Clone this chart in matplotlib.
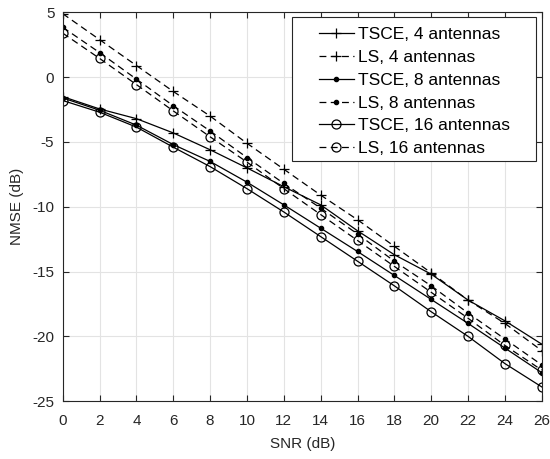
import matplotlib
matplotlib.use("Agg")
import matplotlib.pyplot as plt
from matplotlib.patches import Rectangle

plt.rcParams['font.family'] = ['Liberation Sans', 'DejaVu Sans']
plt.rcParams['axes.unicode_minus'] = False

snr = [0, 2, 4, 6, 8, 10, 12, 14, 16, 18, 20, 22, 24, 26]

tsce_4 = [-1.5, -2.45, -3.2, -4.3, -5.6, -7.0, -8.45, -9.85, -11.85, -13.7, -15.2, -17.2, -18.8, -20.6]
ls_4 = [4.9, 2.9, 0.9, -1.1, -3.0, -5.1, -7.1, -9.1, -11.0, -13.05, -15.1, -17.2, -19.0, -21.1]
tsce_8 = [-1.6, -2.55, -3.7, -5.2, -6.5, -8.1, -9.85, -11.65, -13.45, -15.3, -17.15, -19.0, -20.9, -22.8]
ls_8 = [3.85, 1.9, -0.15, -2.2, -4.15, -6.2, -8.2, -10.1, -12.1, -14.2, -16.1, -18.2, -20.2, -22.2]
tsce_16 = [-1.8, -2.7, -3.85, -5.4, -6.9, -8.6, -10.4, -12.3, -14.2, -16.1, -18.1, -20.0, -22.1, -23.9]
ls_16 = [3.4, 1.45, -0.57, -2.6, -4.6, -6.55, -8.6, -10.6, -12.6, -14.6, -16.6, -18.6, -20.7, -22.6]

labels = ['TSCE, 4 antennas', 'LS, 4 antennas', 'TSCE, 8 antennas',
          'LS, 8 antennas', 'TSCE, 16 antennas', 'LS, 16 antennas']

fs = 11
fs_leg = 12.5
axcol = '#262626'

fig = plt.figure(figsize=(5.5, 4.59), dpi=100)
ax = fig.add_axes([0.114, 0.126, 0.871, 0.847])

lw = 0.9
dash = (5.5, 3.5)
ax.plot(snr, tsce_4, '-', color='k', lw=lw, marker='+', ms=7.5, mew=0.9, label=labels[0])
ax.plot(snr, ls_4, '--', color='k', lw=lw, dashes=dash, marker='+', ms=7.5, mew=0.9, label=labels[1])
ax.plot(snr, tsce_8, '-', color='k', lw=lw, marker='.', ms=6, label=labels[2])
ax.plot(snr, ls_8, '--', color='k', lw=lw, dashes=dash, marker='.', ms=6, label=labels[3])
ax.plot(snr, tsce_16, '-', color='k', lw=lw, marker='o', ms=6.5, mfc='none', mew=0.9, label=labels[4])
ax.plot(snr, ls_16, '--', color='k', lw=lw, dashes=dash, marker='o', ms=6.5, mfc='none', mew=0.9, label=labels[5])

ax.set_xlim(0, 26)
ax.set_ylim(-25, 5)
ax.set_xticks(range(0, 27, 2))
ax.set_yticks(range(-25, 6, 5))
ax.grid(True, color='#e3e3e3', lw=0.8)
ax.set_axisbelow(True)
ax.tick_params(direction='in', top=True, right=True, length=4, width=0.8,
               labelsize=fs, colors=axcol, pad=6)
ax.tick_params(axis='x', pad=9)
for s in ax.spines.values():
    s.set_color(axcol)
    s.set_linewidth(0.8)

ax.set_xlabel('SNR (dB)', fontsize=fs, color=axcol, labelpad=7)
ax.set_ylabel('NMSE (dB)', fontsize=fs, color=axcol, labelpad=6)

# legend box drawn separately so it can be wider than its content
ax.add_patch(Rectangle((0.478, 0.618), 0.51, 0.369, transform=ax.transAxes,
                       facecolor='white', edgecolor=axcol, lw=0.8, zorder=4))
ax.legend(loc='upper left', bbox_to_anchor=(0.535, 0.962), frameon=False,
          fontsize=fs_leg, handlelength=2.0, handletextpad=0.25, labelspacing=0.44,
          borderpad=0, borderaxespad=0).set_zorder(5)

fig.savefig('out.png', dpi=100)
